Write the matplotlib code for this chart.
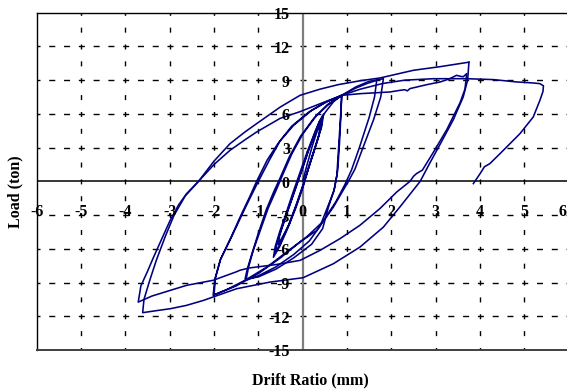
import matplotlib
matplotlib.use("Agg")
import matplotlib.pyplot as plt

plt.rcParams['lines.scale_dashes'] = False

# ---------------- data (drift ratio mm, load ton) ----------------
small_x = [0.0, 0.1, 0.22, 0.32, 0.40, 0.36, 0.25, 0.12, 0.0, -0.15, -0.3, -0.45, -0.55, -0.52, -0.42, -0.28,
           -0.14, 0.0, 0.14, 0.27, 0.37, 0.45, 0.41, 0.3, 0.16, 0.02, -0.14, -0.32, -0.48, -0.62, -0.58, -0.47,
           -0.33, -0.18, -0.03, 0.12, 0.26, 0.38, 0.47, 0.43, 0.32, 0.18, 0.03, -0.14, -0.34, -0.52, -0.66,
           -0.62, -0.52, -0.38, -0.22, -0.06, 0.1]
small_y = [0.0, 1.5, 3.2, 4.4, 5.2, 4.0, 2.6, 1.0, -0.6, -2.3, -3.8, -4.9, -5.6, -4.8, -3.6, -2.0,
           -0.4, 1.2, 2.9, 4.3, 5.3, 5.8, 4.7, 3.3, 1.6, -0.2, -2.0, -3.9, -5.3, -6.4, -5.5, -4.1,
           -2.5, -0.8, 0.9, 2.6, 4.1, 5.3, 6.0, 4.9, 3.5, 1.8, -0.1, -2.1, -4.2, -5.8, -6.75,
           -5.8, -4.5, -2.9, -1.0, 0.8, 2.6]

c1_x = [0.1, 0.3, 0.5, 0.7, 0.88, 0.85, 0.81, 0.77, 0.7, 0.55, 0.39, 0.15, -0.2, -0.6, -1.0, -1.28, -1.22,
        -1.12, -0.96, -0.78, -0.6, -0.45, -0.25, 0.0, 0.3, 0.6, 0.88, 0.86, 0.83, 0.79, 0.72, 0.58, 0.45,
        0.2, -0.2, -0.6, -1.0, -1.3, -1.25, -1.15, -1.0, -0.82, -0.65, -0.51, -0.3, -0.05, 0.25, 0.55,
        0.88, 1.2, 1.45, 1.67]
c1_y = [2.6, 4.6, 6.1, 7.1, 7.65, 5.5, 3.0, 0.5, -0.9, -2.4, -4.0, -5.3, -6.5, -7.6, -8.4, -8.8, -7.6,
        -6.2, -4.4, -2.4, -0.8, 0.6, 2.4, 4.2, 5.8, 6.9, 7.65, 5.8, 3.4, 1.0, -0.6, -2.3, -4.2,
        -5.6, -6.8, -7.8, -8.5, -8.7, -7.8, -6.5, -4.6, -2.5, -0.9, 0.3, 2.2, 4.0, 5.6, 6.8,
        7.65, 8.3, 8.7, 8.99]

c2_x = [1.67, 1.62, 1.5, 1.27, 1.1, 0.95, 0.75, 0.45, 0.1, -0.3, -0.8, -1.3, -1.7, -2.0, -1.97, -1.85,
        -1.6, -1.35, -1.19, -1.0, -0.75, -0.51, -0.2, 0.2, 0.55, 0.88, 1.2, 1.5, 1.82, 1.76, 1.6, 1.35,
        1.18, 1.03, 0.69, 0.32, -0.06, -0.5, -1.0, -1.5, -2.02, -1.98, -1.86, -1.62, -1.38, -1.21,
        -1.04, -0.8, -0.55, -0.25, 0.15, 0.5, 0.88]
c2_y = [8.99, 7.5, 5.7, 2.9, 1.0, -0.3, -1.8, -3.6, -4.9, -6.1, -7.6, -8.8, -9.6, -10.1, -8.6, -6.9,
        -4.9, -2.8, -1.5, 0.0, 1.9, 3.6, 5.0, 6.3, 7.1, 7.65, 8.4, 8.9, 9.13, 7.5, 5.5, 2.9,
        1.1, 0.0, -2.3, -4.36, -5.4, -6.8, -8.2, -9.3, -10.14, -8.7, -7.0, -5.0, -2.9, -1.5,
        0.0, 1.9, 3.4, 4.9, 6.2, 7.0, 7.65]

c4a_x = [0.88, 1.3, 1.97, 2.2, 2.3, 2.36, 2.42, 2.8, 3.1, 3.3, 3.47, 3.55, 3.62, 3.70, 3.66, 3.55,
         3.25, 2.95, 2.7, 2.57, 2.5, 2.42, 2.12, 1.74, 1.29, 0.84, 0.39, -0.06, -0.6, -1.2, -1.41,
         -1.5, -2.02, -2.62, -2.99, -3.4, -3.71, -3.65, -3.5, -3.37, -3.2, -2.99, -2.8, -2.62, -2.35,
         -2.0, -1.64, -1.3, -1.04, -0.51, -0.06, 0.39, 0.8, 1.3, 1.75, 2.5, 3.1, 3.75]
c4a_y = [7.65, 7.8, 7.95, 8.1, 8.15, 8.05, 8.25, 8.6, 8.84, 9.1, 9.43, 9.35, 9.3, 9.58, 8.2, 7.0,
         4.6, 2.6, 1.0, 0.7, 0.45, 0.0, -0.95, -2.43, -3.91, -5.1, -6.14, -7.03, -7.4, -7.7, -7.9,
         -8.05, -8.8, -9.25, -9.7, -10.2, -10.74, -9.3, -8.0, -6.8, -5.3, -3.47, -2.1, -1.1, 0.0,
         1.8, 3.35, 4.4, 5.13, 6.6, 7.65, 8.2, 8.6, 8.95, 9.2, 9.88, 10.2, 10.6]

c4b_x = [3.75, 3.72, 3.62, 3.4, 3.1, 2.85, 2.65, 2.19, 1.82, 1.29, 0.69, 0.01, -0.74, -1.49, -2.24,
         -2.62, -2.99, -3.3, -3.61, -3.58, -3.45, -3.3, -3.1, -2.9, -2.65, -2.35, -2.0, -1.64, -1.3,
         -1.04, -0.51, -0.06, 0.39, 0.88]
c4b_y = [10.6, 9.0, 7.5, 5.5, 3.3, 1.5, 0.0, -2.29, -4.07, -5.85, -7.33, -8.57, -8.96, -9.55, -10.59,
         -11.03, -11.33, -11.5, -11.68, -10.5, -8.8, -7.0, -4.9, -3.0, -1.3, 0.0, 1.5, 2.76, 3.7,
         4.39, 5.6, 6.2, 6.9, 7.65]

final_x = [0.88, 1.3, 1.8, 2.3, 2.95, 3.7, 4.3, 4.83, 5.2, 5.35, 5.43, 5.42, 5.35, 5.2, 4.9, 4.45,
           4.22, 4.1, 4.0, 3.85]
final_y = [7.65, 8.2, 8.7, 9.0, 9.13, 9.13, 9.05, 8.84, 8.75, 8.69, 8.5, 8.0, 7.2, 5.72, 4.24, 2.46,
           1.57, 1.3, 0.68, -0.2]

x_ticks = [-6, -5, -4, -3, -2, -1, 0, 1, 2, 3, 4, 5, 6]
x_tick_labels = ['-6', '-5', '-4', '-3', '-2', '-1', '0', '1', '2', '3', '4', '5', '6']
y_ticks = [-15, -12, -9, -6, -3, 0, 3, 6, 9, 12, 15]
y_tick_labels = ['-15', '-12', '-9', '-6', '-3', '0', '3', '6', '9', '12', '15']

x_title = 'Drift Ratio (mm)'
y_title = 'Load (ton)'

# ---------------- figure ----------------
W, H, DPI = 567, 389, 100
fig = plt.figure(figsize=(W / DPI, H / DPI), dpi=DPI)
ax = fig.add_axes([36.7 / W, 39.0 / H, 532.0 / W, 337.3 / H])
ax.set_xlim(-6, 6)
ax.set_ylim(-15, 15)
ax.set_xticks([])
ax.set_yticks([])
for s in ['top', 'left']:
    ax.spines[s].set_color('black')
    ax.spines[s].set_linewidth(1.0)
ax.spines['bottom'].set_color('#404040')
ax.spines['bottom'].set_linewidth(1.4)
ax.spines['right'].set_visible(False)

px = 0.72  # points per pixel
# horizontal dashed grid
for yv in y_ticks:
    if yv in (-15, 0, 15):
        continue
    ax.plot([-6, 6], [yv, yv], color='black', lw=1.0,
            linestyle=(3.0 * px, (6 * px, 8.78 * px)), zorder=1, clip_on=False)
# vertical dashed grid
for xv in x_ticks:
    if xv in (-6, 0, 6):
        continue
    ax.plot([xv, xv], [-15, 15], color='black', lw=1.0,
            linestyle=(2.5 * px, (5 * px, 11.86 * px)), zorder=1)

# axes through the origin
ax.axhline(0, color='black', lw=1.1, zorder=2)
ax.axvline(0, color='#7f7f7f', lw=1.6, zorder=2)

col = '#000080'
for xs, ys in [(small_x, small_y), (c1_x, c1_y), (c2_x, c2_y),
               (c4a_x, c4a_y), (c4b_x, c4b_y), (final_x, final_y)]:
    ax.plot(xs, ys, color=col, lw=1.15, zorder=3, solid_joinstyle='round')

font = dict(family='Liberation Serif', weight='bold', size=11.5)
# x tick labels placed along the -3 level as in the original
for xv, lab in zip(x_ticks, x_tick_labels):
    if xv == x_ticks[-1]:
        ax.text(5.96, -2.76, lab, ha='right', va='center', clip_on=False, zorder=4, **font)
    else:
        ax.text(xv, -2.76, lab, ha='center', va='center', clip_on=False, zorder=4, **font)
# y tick labels just left of the vertical axis
for yv, lab in zip(y_ticks, y_tick_labels):
    ax.text(-0.29, yv - 0.22, lab, ha='right', va='center', clip_on=False, zorder=4, **font)

fig.text(310 / W, 1 - 380 / H, x_title, ha='center', va='center', **font)
fig.text(15 / W, 1 - 192 / H, y_title, ha='center', va='center', rotation=90, **font)

fig.savefig('out.png', dpi=DPI)
